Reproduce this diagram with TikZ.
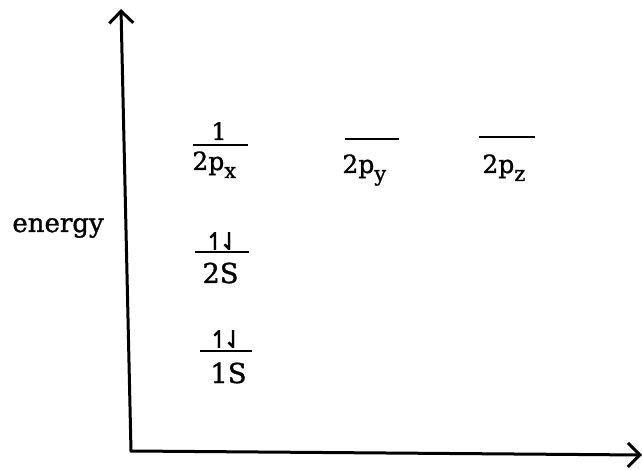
\documentclass[tikz,border=0pt]{standalone}
\usepackage{fontspec}
\setmainfont{DejaVu Serif}[FakeBold=1.2]
\newfontfamily\arrowfont{DejaVu Sans}[FakeBold=1.5]
\usetikzlibrary{arrows.meta}

\tikzset{
  axis/.style={line width=1.5pt, line join=miter,
    {Straight Barb[length=6pt,width=12pt,line width=1.5pt]}-{Straight Barb[length=6pt,width=12pt,line width=1.5pt]}},
  level/.style={line width=1.2pt},
  label/.style={anchor=base west, inner sep=0pt},
  plabel/.style={label, font=\fontsize{12.5}{14}\selectfont},
  slabel/.style={label, font=\fontsize{13.7}{16}\selectfont},
  spins/.style={inner sep=0pt, font=\arrowfont\fontsize{12}{13}\selectfont},
}
\newcommand{\orbsub}[1]{\raisebox{-4pt}{\fontsize{10.5}{12}\selectfont #1}}

\begin{document}
\begin{tikzpicture}[x=0.5pt,y=-0.5pt]
	\useasboundingbox (0,0) rectangle (642,470);
	
	% axes
	\coordinate (origin) at (131,451);
	\coordinate (etop) at (121,9);
	\coordinate (xend) at (642,455);
	\draw[axis] (etop) -- (origin) -- (xend);
	\node[label, font=\fontsize{13}{15}\selectfont] (energy) at (12,232) {energy};
	
	% 2p levels
	\coordinate (pxl) at (193,145);  \coordinate (pxr) at (248,145);
	\coordinate (pyl) at (345,139);  \coordinate (pyr) at (399,139);
	\coordinate (pzl) at (479,137);  \coordinate (pzr) at (535,137);
	\draw[level] (pxl) -- (pxr);
	\draw[level] (pyl) -- (pyr);
	\draw[level] (pzl) -- (pzr);
	\node[inner sep=0pt, anchor=base, font=\fontsize{12}{13}\selectfont] (pxocc) at (219,140) {1};
	\node[plabel] (px) at (192,170) {2p\orbsub{x}};
	\node[plabel] (py) at (342,173) {2p\orbsub{y}};
	\node[plabel] (pz) at (482,173) {2p\orbsub{z}};
	
	% 2S and 1S levels
	\coordinate (s2l) at (195,252);  \coordinate (s2r) at (249,252);
	\coordinate (s1l) at (200,351);  \coordinate (s1r) at (252,351);
	\draw[level] (s2l) -- (s2r);
	\draw[level] (s1l) -- (s1r);
	\node[spins] (s2occ) at (222,241) {↿\kern-3pt⇃};
	\node[spins] (s1occ) at (226,339) {↿\kern-3pt⇃};
	\node[slabel] (s2) at (202,283) {2S};
	\node[slabel] (s1) at (210,383) {1S};
\end{tikzpicture}
\end{document}
